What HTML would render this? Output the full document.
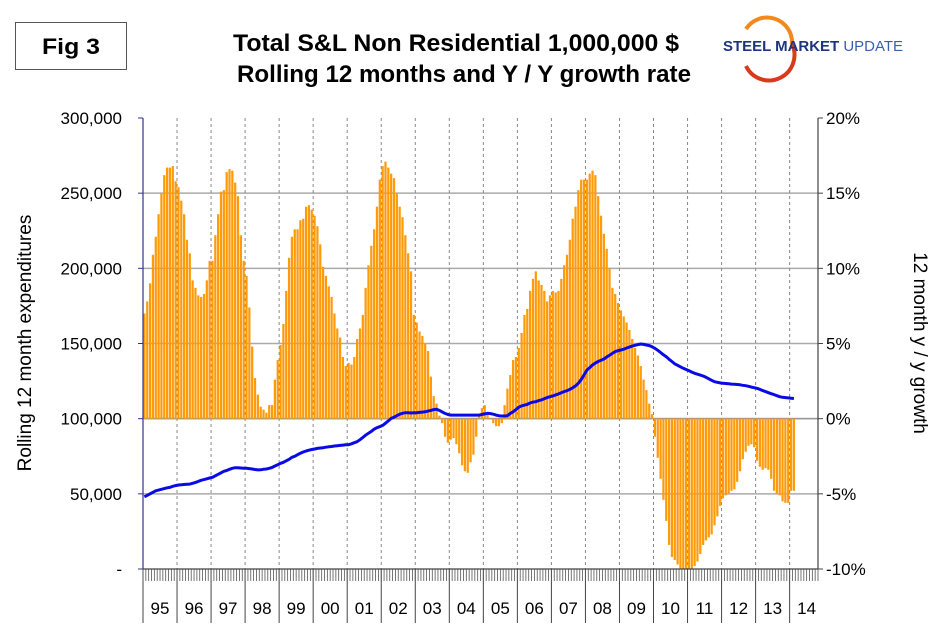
<!DOCTYPE html>
<html><head><meta charset="utf-8"><style>
body{margin:0;background:#fff;}
svg{display:block;font-family:"Liberation Sans",Arial,sans-serif;}
</style></head><body>
<svg id="chart" width="940" height="643" viewBox="0 0 940 643">
<rect x="0" y="0" width="940" height="643" fill="#fff"/>
<g>
<rect x="15.5" y="22.5" width="111" height="47" fill="#fff" stroke="#555" stroke-width="1"/>
<text x="71" y="54" font-size="22" font-weight="bold" text-anchor="middle" textLength="58" lengthAdjust="spacingAndGlyphs">Fig 3</text>
</g>
<g>
<text x="456" y="51" font-size="24" font-weight="bold" text-anchor="middle" textLength="446" lengthAdjust="spacingAndGlyphs">Total S&amp;L Non Residential 1,000,000 $</text>
<text x="464" y="82" font-size="24" font-weight="bold" text-anchor="middle" textLength="454" lengthAdjust="spacingAndGlyphs">Rolling 12 months and Y / Y growth rate</text>
</g>
<g>
<path d="M 746 29 A 25 25 0 0 1 792 44" fill="none" stroke="#f08a1c" stroke-width="4"/>
<path d="M 792 44 A 25 25 0 0 1 746 66" fill="none" stroke="#d83a1c" stroke-width="4"/>
<text x="723" y="51" font-size="15" textLength="180" lengthAdjust="spacingAndGlyphs"><tspan font-weight="bold" fill="#1c3580">STEEL MARKET</tspan><tspan fill="#3a5fb0"> UPDATE</tspan></text>
</g>
<g id="grid"></g>
<g id="bars"></g>
<g id="line"></g>
<g id="axes"></g>
<text transform="translate(31,343) rotate(-90)" font-size="19" text-anchor="middle">Rolling 12 month expenditures</text>
<text transform="translate(914,343) rotate(90)" font-size="19" text-anchor="middle">12 month y / y growth</text>
</svg>
<script>
const years = ["95","96","97","98","99","00","01","02","03","04","05","06","07","08","09","10","11","12","13","14"];
const leftTicks = [0,50000,100000,150000,200000,250000,300000];
const leftTickLabels = ["-","50,000","100,000","150,000","200,000","250,000","300,000"];
const rightTicks = [-10,-5,0,5,10,15,20];
const rightTickLabels = ["-10%","-5%","0%","5%","10%","15%","20%"];
const growth = [
7.0,7.8,9.0,10.9,12.1,13.6,15.0,16.2,16.7,16.7,16.8,15.8,
15.4,14.5,13.6,11.9,11.0,9.2,8.7,8.2,8.1,8.3,9.2,10.5,
10.5,12.2,13.6,15.1,15.2,16.4,16.6,16.5,15.7,14.8,12.2,10.5,
9.5,7.4,4.8,2.7,1.6,0.8,0.6,0.4,0.9,0.9,2.6,3.9,
4.9,6.3,8.5,10.7,12.1,12.6,12.6,13.2,13.3,14.1,14.2,13.9,
13.5,12.8,11.6,10.1,9.5,8.8,8.1,7.0,6.0,5.4,4.1,3.5,
3.7,3.6,4.1,5.3,6.0,6.9,8.7,10.2,11.5,12.6,14.1,15.9,
16.8,17.1,16.7,16.3,16.0,15.0,14.1,13.4,12.2,11.0,9.8,6.9,
6.4,5.8,5.5,5.0,4.5,2.8,1.5,1.0,0.2,-0.3,-1.2,-1.6,
-1.4,-1.3,-1.7,-2.3,-3.1,-3.5,-3.6,-2.9,-2.4,-1.2,0.2,0.7,
0.9,0.4,0,-0.3,-0.5,-0.5,-0.3,0.9,2.0,2.9,3.9,4.1,
4.7,5.7,6.9,7.3,8.5,9.3,9.8,9.2,8.9,8.5,7.8,8.2,
8.5,8.4,8.5,9.3,10.2,10.9,11.9,13.3,14.1,15.2,15.9,15.9,
15.9,16.3,16.5,16.2,14.8,13.5,12.3,11.3,10.0,8.7,8.3,7.7,
7.2,6.8,6.4,5.9,5.3,4.7,4.2,3.5,2.6,1.9,1.0,0.3,
-1.2,-2.6,-4.0,-5.4,-6.8,-8.4,-9.2,-9.4,-9.7,-10,-10,-10,
-10,-10,-9.8,-9.5,-9.0,-8.4,-8.1,-7.9,-7.7,-7.1,-6.5,-5.8,
-5.3,-5.1,-5.0,-4.8,-4.7,-4.2,-3.5,-2.7,-2.2,-1.8,-1.7,-1.9,
-2.8,-3.2,-3.4,-3.3,-3.4,-4.0,-4.8,-5.0,-5.1,-5.5,-5.6,-5.6,
-4.8,-4.8];
const rolling = [
48,49,50,51,52,52.5,53,53.5,54,54.3,55,55.5,
55.9,56,56.2,56.4,56.5,57,57.6,58.3,59,59.5,60,60.5,
61,62,63,64,65,65.5,66.3,67,67.4,67.4,67.2,67,
67,66.8,66.5,66.2,65.9,66,66.3,66.5,67,67.5,68.5,69.3,
70.3,71,72,73,74.3,75,76,77,77.8,78.5,79,79.5,
79.8,80.2,80.5,80.7,81,81.3,81.5,81.8,82,82.2,82.4,82.6,
82.7,83.3,84,84.7,86,87.5,89,90.3,91.5,93,94,94.7,
95.5,97,98.5,100.2,101,102,103,103.6,104,104,103.8,104,
104,104.2,104.4,104.6,105,105.5,106,106.2,105.5,104.5,103.5,102.8,
102.4,102.4,102.4,102.4,102.4,102.4,102.4,102.4,102.4,102.4,102.4,102.8,
103.2,103.6,103.4,103,102.4,102,101.8,101.8,102,103.5,104.6,106,
107.6,108.5,109,109.5,110.4,111,111.3,112,112.5,113.3,114,114.6,
115.1,115.8,116.5,117.3,118,118.6,119.5,120.5,121.8,123.5,126,129,
132.4,134,135.7,137,138,138.8,139.7,141,142.2,143.4,144.6,145.2,
145.7,146.2,147,147.6,148.3,148.8,149.3,149.7,149.4,149,148.6,147.8,
146.8,145.5,144,142.5,141.2,139.5,138,136.4,135.5,134.5,133.5,132.7,
131.9,131,130.2,129.6,129,128.4,127.5,126.5,125.5,124.6,124.2,123.8,
123.5,123.4,123.2,123,122.9,122.7,122.5,122.2,121.9,121.5,121,120.6,
120.2,119.5,118.7,118,117.3,116.6,116,115.3,114.6,114.2,114,113.8,
113.6,113.4];

const NS="http://www.w3.org/2000/svg";
const L=143, R=818, T=118, B=569, SLOTS=238;
const mw=(R-L)/SLOTS;
const xPos=i=>L+i*mw;
const yL=v=>B-(v/300000)*(B-T);
const yR=p=>B-((p+10)/30)*(B-T);
function mk(tag,attrs,parent){const e=document.createElementNS(NS,tag);for(const k in attrs)e.setAttribute(k,attrs[k]);parent.appendChild(e);return e;}
const grid=document.getElementById('grid'),bars=document.getElementById('bars'),line=document.getElementById('line'),axes=document.getElementById('axes');

leftTicks.forEach((v,i)=>{
  const y=yL(v);
  if(i>0&&i<leftTicks.length-1){const g=mk('line',{x1:L,x2:R,y1:y,y2:y,stroke:'#aaa','stroke-width':1.5},grid);
  
  }
  const t=mk('text',{x:122,y:y+6,'font-size':17,'text-anchor':'end'},axes);t.textContent=leftTickLabels[i];
  
  
  mk('line',{x1:L-5,x2:L,y1:y,y2:y,stroke:'#33338a'},axes);
});
rightTicks.forEach((v,i)=>{
  const y=yR(v);
  const t=mk('text',{x:826,y:y+6,'font-size':17},axes);t.textContent=rightTickLabels[i];
  
  
  mk('line',{x1:R,x2:R+5,y1:y,y2:y,stroke:'#444'},axes);
});
years.forEach((yr,k)=>{
  const x=xPos(k*12);
  if(k>0){const d=mk('line',{x1:x,x2:x,y1:T,y2:B,stroke:'#888','stroke-dasharray':'3,3'},grid);
  
  }
  mk('line',{x1:x,x2:x,y1:B,y2:623,stroke:'#444'},axes);
  const t=mk('text',{x:x+17,y:614,'font-size':17,'text-anchor':'middle'},axes);t.textContent=yr;
  
  
});
for(let i=0;i<=SLOTS;i++){const x=xPos(i);mk('line',{x1:x,x2:x,y1:B,y2:B+12,stroke:'#555','stroke-width':0.8},axes);}

growth.forEach((p,i)=>{
  const v=Math.max(-10,Math.min(20,p));
  const y0=yR(0),y1=yR(v);
  const b=mk('rect',{x:xPos(i)+0.3,y:Math.min(y0,y1),width:mw-0.6,height:Math.max(0.5,Math.abs(y1-y0)),fill:'#ff9a0a'},bars);
  
  
});
mk('line',{x1:L,x2:R,y1:yR(0),y2:yR(0),stroke:'#999','stroke-width':1.5},grid);

const pts=rolling.map((v,i)=>(xPos(i)+mw/2).toFixed(1)+','+yL(v*1000).toFixed(1)).join(' ');
const pl=mk('polyline',{points:pts,fill:'none',stroke:'#0a0ae6','stroke-width':3,'stroke-linejoin':'round'},line);



mk('line',{x1:L,x2:L,y1:T,y2:B,stroke:'#33338a','stroke-width':1.2},axes);
mk('line',{x1:R,x2:R,y1:T,y2:B,stroke:'#444','stroke-width':1.2},axes);
mk('line',{x1:L,x2:R,y1:B,y2:B,stroke:'#444','stroke-width':1.2},axes);
</script>
</body></html>
